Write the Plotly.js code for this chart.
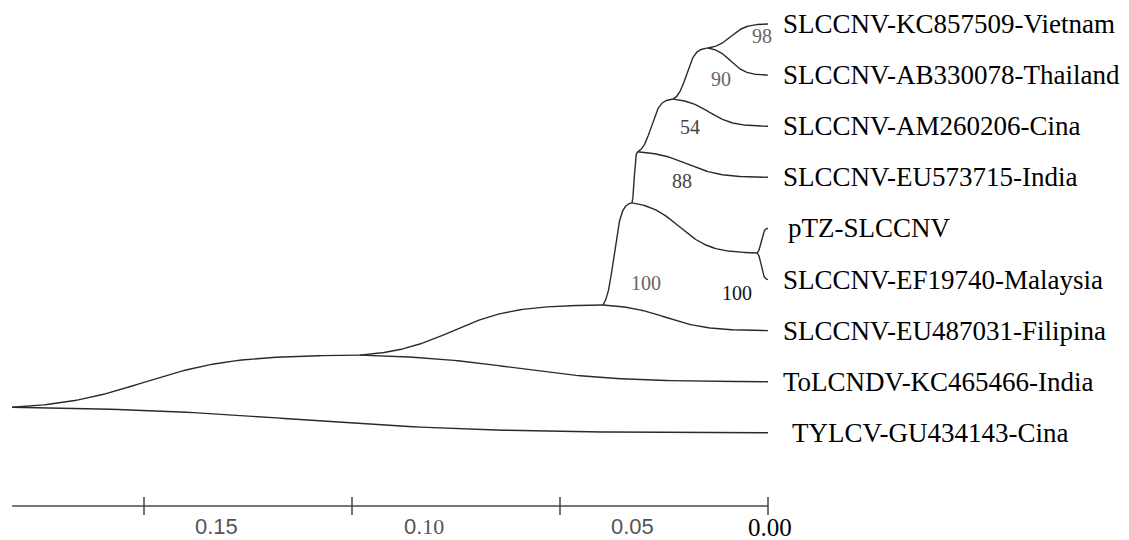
<!DOCTYPE html>
<html><head><meta charset="utf-8">
<script src="https://cdn.plot.ly/plotly-3.0.1.min.js"></script>
<style>html,body{margin:0;padding:0;background:#fff}#chart{width:1129px;height:540px}</style>
</head><body><div id="chart"></div>
<script>
// ---- data ----
const tipNames = [
  'SLCCNV-KC857509-Vietnam',
  'SLCCNV-AB330078-Thailand',
  'SLCCNV-AM260206-Cina',
  'SLCCNV-EU573715-India',
  'pTZ-SLCCNV',
  'SLCCNV-EF19740-Malaysia',
  'SLCCNV-EU487031-Filipina',
  'ToLCNDV-KC465466-India',
  'TYLCV-GU434143-Cina'
];
const tipRows = [0, 1, 2, 3, 4, 5, 6, 7, 8];
const tipDist = [0, 0, 0, 0, 0, 0, 0, 0, 0];

const nodeIds   = ['root', 'n1', 'n2', 'n3', 'n4', 'n5', 'n6', 'n7'];
const nodeDist  = [0.1817, 0.0981, 0.0397, 0.0327, 0.0313, 0.0228, 0.0144, 0.0026];
const nodeRows  = [7.5, 6.48, 5.5, 3.5, 2.5, 1.47, 0.47, 4.48];

const edgeParents  = ['root','root','n1','n1','n2','n2','n3','n3','n4','n4','n5','n5','n6','n6','n7','n7'];
const edgeChildren = ['n1','TYLCV-GU434143-Cina','n2','ToLCNDV-KC465466-India','n3','SLCCNV-EU487031-Filipina',
  'n4','n7','n5','SLCCNV-EU573715-India','n6','SLCCNV-AM260206-Cina',
  'SLCCNV-KC857509-Vietnam','SLCCNV-AB330078-Thailand','pTZ-SLCCNV','SLCCNV-EF19740-Malaysia'];

const bootNodes  = ['n6', 'n5', 'n4', 'n3', 'n2', 'n7'];
const bootValues = ['98', '90', '54', '88', '100', '100'];

const scaleTicks  = [0.15, 0.10, 0.05, 0.00];
const scaleLabels = ['0.15', '0.<span style="font-family:Liberation Serif">10</span>', '0.05', '0.00'];

// ---- build ----
const pos = {};
tipNames.forEach((n, i) => pos[n] = {d: tipDist[i], r: tipRows[i]});
nodeIds.forEach((n, i) => pos[n] = {d: nodeDist[i], r: nodeRows[i]});

const L = z => 1 / (1 + Math.exp(-z));
function ease(t) {
  const k = 8, c = 0.38;
  const a = L(-k * c), b = L(k * (1 - c));
  return (L(k * (t - c)) - a) / (b - a);
}
function branch(p, c) {
  const xs = [], ys = [], N = 100;
  for (let k = 0; k <= N; k++) {
    const t = k / N;
    xs.push(p.d + (c.d - p.d) * t);
    ys.push(p.r + (c.r - p.r) * ease(t));
  }
  return {xs, ys};
}

const traces = edgeParents.map((p, i) => {
  const b = branch(pos[p], pos[edgeChildren[i]]);
  return {x: b.xs, y: b.ys, type: 'scatter', mode: 'lines',
    line: {color: '#2a2a2a', width: 1.4}, hoverinfo: 'skip'};
});

const annotations = [];
const tipShift = {'pTZ-SLCCNV': 18, 'TYLCV-GU434143-Cina': 22};
tipNames.forEach((n, i) => {
  annotations.push({x: tipDist[i], y: tipRows[i], xref: 'x', yref: 'y', text: n,
    showarrow: false, xanchor: 'left', yanchor: 'middle',
    xshift: tipShift[n] !== undefined ? tipShift[n] : 13, yshift: 0,
    font: {family: 'Liberation Serif, Times New Roman, serif', size: 27, color: '#000'}});
});
const bootStyle = {
  n6: {dx: 54, dy: 12, c: '#666'},
  n5: {dx: 48, dy: 20, c: '#666'},
  n4: {dx: 52, dy: 25, c: '#444'},
  n3: {dx: 50, dy: 22, c: '#444'},
  n2: {dx: 43, dy: 22, c: '#666'},
  n7: {dx: -20, dy: -40, c: '#111'}
};
bootNodes.forEach((n, i) => {
  const st = bootStyle[n];
  annotations.push({x: pos[n].d, y: pos[n].r, xref: 'x', yref: 'y', text: bootValues[i],
    showarrow: false, xanchor: 'center', yanchor: 'middle', xshift: st.dx, yshift: st.dy,
    font: {family: 'Liberation Serif, Times New Roman, serif', size: 20, color: st.c}});
});

const shapes = [];
shapes.push({type: 'line', xref: 'x', yref: 'paper', x0: pos['root'].d, x1: 0,
  y0: 1 - 506 / 540, y1: 1 - 506 / 540, line: {color: '#777', width: 2}});
scaleTicks.forEach((t, i) => {
  shapes.push({type: 'line', xref: 'x', yref: 'paper', x0: t, x1: t,
    y0: 1 - 497 / 540, y1: 1 - 515 / 540, line: {color: '#444', width: 1.5}});
  const last = i === scaleTicks.length - 1;
  annotations.push({x: t, y: 1 - (last ? 527 : 526) / 540, xref: 'x', yref: 'paper',
    text: scaleLabels[i], showarrow: false, xanchor: 'center', yanchor: 'middle',
    xshift: last ? 2 : 72,
    font: last ? {family: 'Liberation Serif, serif', size: 25, color: '#000'}
               : {family: 'Liberation Sans, Arial, sans-serif', size: 22, color: '#555'}});
});

const layout = {
  width: 1129, height: 540,
  margin: {l: 0, r: 0, t: 0, b: 0},
  paper_bgcolor: '#fff', plot_bgcolor: '#fff',
  showlegend: false,
  xaxis: {range: [768 / 4160, (768 - 1129) / 4160], visible: false, fixedrange: true},
  yaxis: {range: [(540 - 24) / 51.1, -24 / 51.1], visible: false, fixedrange: true},
  annotations: annotations,
  shapes: shapes
};
Plotly.newPlot('chart', traces, layout, {displayModeBar: false, staticPlot: true});
</script>
</body></html>
